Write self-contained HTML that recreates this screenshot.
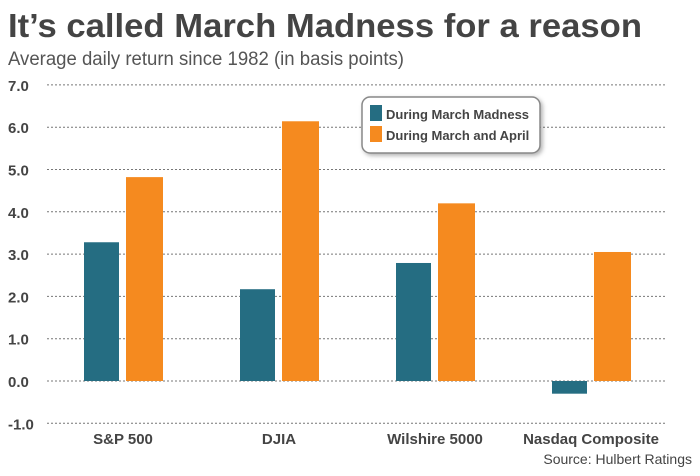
<!DOCTYPE html>
<html><head><meta charset="utf-8"><style>
body{margin:0;background:#fff;}
svg text{font-family:"Liberation Sans",sans-serif;}
</style></head><body>
<svg id="chart" width="700" height="471" viewBox="0 0 700 471">
<text x="8" y="37" font-size="33" font-weight="bold" fill="#444" textLength="634" lengthAdjust="spacingAndGlyphs">It’s called March Madness for a reason</text>
<text x="8" y="65" font-size="19" fill="#555" textLength="396" lengthAdjust="spacingAndGlyphs">Average daily return since 1982 (in basis points)</text>
<g id="grid"></g><g id="bars"></g><g id="xlabels"></g>
<g>
<rect x="362" y="97" width="178" height="56" rx="8" fill="#fff" stroke="#888" stroke-width="1.5" style="filter:drop-shadow(2px 2px 2px rgba(0,0,0,0.3))"/>
<rect x="370" y="105" width="12" height="16" fill="#256d82"/>
<text x="386" y="119" font-size="13" font-weight="bold" fill="#444">During March Madness</text>
<rect x="370" y="126" width="12" height="16" fill="#f58a1f"/>
<text x="386" y="140" font-size="13" font-weight="bold" fill="#444">During March and April</text>
</g>
<text x="692" y="464" font-size="14" fill="#444" text-anchor="end">Source: Hulbert Ratings</text>
</svg>
<script>
const categories=["S&P 500","DJIA","Wilshire 5000","Nasdaq Composite"];
const marchMadness=[3.28,2.17,2.79,-0.3];
const marchApril=[4.82,6.14,4.2,3.05];
const yTicks=[7,6,5,4,3,2,1,0,-1];
const NS="http://www.w3.org/2000/svg";
function y(v){return 381-v*42.3;}
function cx(i){return 123+i*156;}
function mk(t,a,p){const e=document.createElementNS(NS,t);for(const k in a)e.setAttribute(k,a[k]);p.appendChild(e);return e;}
const grid=document.getElementById('grid');
yTicks.forEach(v=>{
 const l=mk('line',{x1:47,x2:665,y1:y(v),y2:y(v),stroke:'#777','stroke-width':1,'stroke-dasharray':'2,2'},grid);
 
 
 const t=mk('text',{x:8,y:y(v)+6,'font-size':15,'font-weight':'bold',fill:'#444'},grid);
 t.textContent=v.toFixed(1);
 
 
});
const bars=document.getElementById('bars');
categories.forEach((c,i)=>{
 const a=marchMadness[i],b=marchApril[i];
 const r1=mk('rect',{x:cx(i)-39,width:35,y:Math.min(y(a),y(0)),height:Math.abs(y(a)-y(0)),fill:'#256d82'},bars);
 
 
 const r2=mk('rect',{x:cx(i)+3,width:37,y:Math.min(y(b),y(0)),height:Math.abs(y(b)-y(0)),fill:'#f58a1f'},bars);
 
 
 const t=mk('text',{x:cx(i),y:444,'font-size':15,'font-weight':'bold',fill:'#444','text-anchor':'middle'},document.getElementById('xlabels'));
 t.textContent=c;
 
 
});
</script>
</body></html>
